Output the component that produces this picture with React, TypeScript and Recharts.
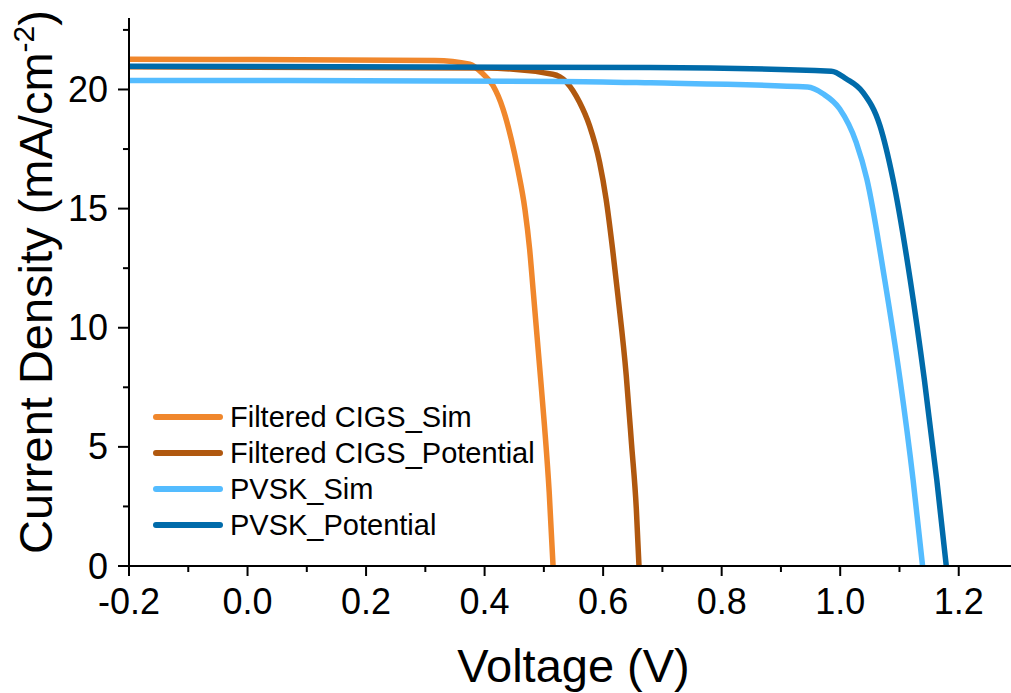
import { LineChart, Line, XAxis, YAxis, Legend } from "recharts";

// J-V curves, voltage (V) vs current density (mA/cm^2)
const cigsSimV = [-0.2, 0.316, 0.375, 0.397, 0.414, 0.431, 0.445, 0.456, 0.468, 0.476, 0.482, 0.492, 0.501, 0.509, 0.5155];
const cigsSimJ = [21.27, 21.22, 21.06, 20.66, 20.17, 19.19, 17.92, 16.66, 14.98, 13.29, 11.55, 8.6, 5.9, 3.1, 0];

const cigsPotV = [-0.2, 0.4, 0.515, 0.538, 0.56, 0.577, 0.594, 0.605, 0.616, 0.625, 0.639, 0.648, 0.656, 0.6605];
const cigsPotJ = [20.95, 20.9, 20.64, 20.31, 19.47, 18.48, 16.94, 15.4, 13.29, 11.33, 8.0, 5.1, 2.4, 0];

const pvskSimV = [-0.2, 0.53, 0.68, 0.945, 0.971, 0.999, 1.027, 1.045, 1.075, 1.101, 1.123, 1.139];
const pvskSimJ = [20.38, 20.34, 20.28, 20.1, 19.82, 19.19, 17.78, 16.24, 12.03, 7.82, 3.61, 0];

const pvskPotV = [-0.2, 0.68, 0.985, 1.01, 1.038, 1.067, 1.089, 1.118, 1.142, 1.163, 1.179];
const pvskPotJ = [20.98, 20.92, 20.77, 20.45, 19.89, 18.48, 16.24, 12.03, 7.82, 3.61, 0];

const xMajor = [-0.2, 0, 0.2, 0.4, 0.6, 0.8, 1.0, 1.2];
const xMinor = [-0.1, 0.1, 0.3, 0.5, 0.7, 0.9, 1.1, 1.3];
const yMajor = [0, 5, 10, 15, 20];
const yMinor = [2.5, 7.5, 12.5, 17.5, 22.5];

const zip = (v: number[], j: number[]) => v.map((x, i) => ({ v: x, j: j[i] }));

const series = [
  { name: "Filtered CIGS_Sim", color: "#F0872C", data: zip(cigsSimV, cigsSimJ) },
  { name: "Filtered CIGS_Potential", color: "#B0580F", data: zip(cigsPotV, cigsPotJ) },
  { name: "PVSK_Sim", color: "#54BCFF", data: zip(pvskSimV, pvskSimJ) },
  { name: "PVSK_Potential", color: "#006BAA", data: zip(pvskPotV, pvskPotJ) },
];

const FONT = "'Liberation Sans', Arial, sans-serif";
const xMajorKeys = new Set(xMajor.map((t) => t.toFixed(2)));
const yMajorKeys = new Set(yMajor.map((t) => t.toFixed(2)));

function XTick({ x, y, payload }: any) {
  const major = xMajorKeys.has(Number(payload.value).toFixed(2));
  return (
    <g>
      <line x1={x} x2={x} y1={y} y2={y + (major ? 10 : 6)} stroke="#000" strokeWidth={2} />
      {major && (
        <text x={x} y={y + 48} textAnchor="middle" fontSize={36} fontFamily={FONT} fill="#000">
          {Number(payload.value).toFixed(1)}
        </text>
      )}
    </g>
  );
}

function YTick({ x, y, payload }: any) {
  const major = yMajorKeys.has(Number(payload.value).toFixed(2));
  return (
    <g>
      <line x1={x - (major ? 11 : 6)} x2={x} y1={y} y2={y} stroke="#000" strokeWidth={2} />
      {major && (
        <text x={x - 21} y={y + 12.5} textAnchor="end" fontSize={36} fontFamily={FONT} fill="#000">
          {payload.value}
        </text>
      )}
    </g>
  );
}

function renderLegend() {
  return (
    <div style={{ fontFamily: FONT }}>
      {series.map((s) => (
        <div key={s.name} style={{ display: "flex", alignItems: "center", height: 36 }}>
          <div style={{ width: 70, height: 6, borderRadius: 3, background: s.color }} />
          <span style={{ marginLeft: 7, fontSize: 29, lineHeight: 1, color: "#000", whiteSpace: "nowrap" }}>{s.name}</span>
        </div>
      ))}
    </div>
  );
}

export default function App() {
  return (
    <div style={{ position: "absolute", left: 0, top: 0, width: 1011, height: 693, overflow: "hidden", background: "#fff" }}>
      <LineChart width={1018} height={693} margin={{ top: 18, right: 0, bottom: 67, left: 69 }}>
        <XAxis
          xAxisId="top"
          orientation="top"
          type="number"
          dataKey="v"
          domain={[-0.2, 1.3]}
          height={0}
          tick={false}
          tickLine={false}
          axisLine={{ stroke: "#000", strokeWidth: 2 }}
        />
        <XAxis
          type="number"
          dataKey="v"
          domain={[-0.2, 1.3]}
          allowDataOverflow
          ticks={[...xMajor, ...xMinor].sort((a, b) => a - b)}
          interval={0}
          tickSize={0}
          tickMargin={0}
          tickLine={false}
          tick={<XTick />}
          height={60}
          axisLine={{ stroke: "#000", strokeWidth: 2 }}
          label={{
            content: ({ viewBox }: any) => (
              <text x={viewBox.x + viewBox.width / 2} y={682} textAnchor="middle" fontSize={47} fontFamily={FONT} fill="#000">
                Voltage (V)
              </text>
            ),
          }}
        />
        <YAxis
          type="number"
          domain={[0, 23]}
          allowDataOverflow
          ticks={[...yMajor, ...yMinor].sort((a, b) => a - b)}
          interval={0}
          width={60}
          tickSize={0}
          tickMargin={0}
          tickLine={false}
          tick={<YTick />}
          axisLine={{ stroke: "#000", strokeWidth: 2 }}
          label={{
            content: ({ viewBox }: any) => (
              <text
                transform={`translate(52, ${viewBox.y + viewBox.height / 2 - 10}) rotate(-90)`}
                textAnchor="middle"
                fontSize={47}
                fontFamily={FONT}
                fill="#000"
              >
                Current Density (mA/cm
                <tspan dy={-18} fontSize={30}>-2</tspan>
                <tspan dy={18}>)</tspan>
              </text>
            ),
          }}
        />
        <Legend
          layout="vertical"
          align="center"
          verticalAlign="middle"
          content={renderLegend}
          wrapperStyle={{ left: 153, top: 399, width: "auto" }}
        />
        {series.map((s) => (
          <Line
            key={s.name}
            data={s.data}
            dataKey="j"
            name={s.name}
            type="monotone"
            stroke={s.color}
            strokeWidth={5.5}
            dot={false}
            activeDot={false}
            isAnimationActive={false}
          />
        ))}
      </LineChart>
    </div>
  );
}
